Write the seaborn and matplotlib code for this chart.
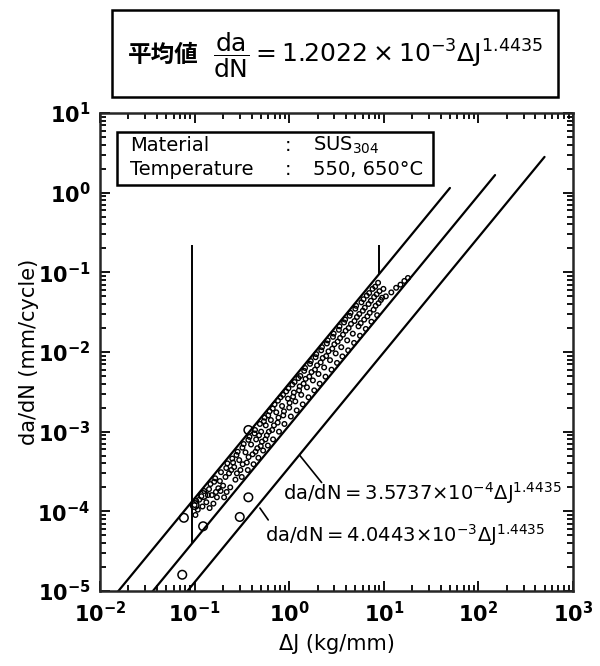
import numpy as np
import pandas as pd
import seaborn as sns
import matplotlib.pyplot as plt
from matplotlib.patches import Rectangle
from matplotlib.ticker import FuncFormatter

# fitted lines da/dN = C * dJ^m (lower, mean, upper)
line_names = ["lower", "mean", "upper"]
line_coef = [3.5737e-4, 1.2022e-3, 4.0443e-3]
line_exp = 1.4435
line_start = [0.01, 0.01, 0.01]
line_end = [500, 150, 50]

# axis decades
x_ticks = [1e-2, 1e-1, 1e0, 1e1, 1e2, 1e3]
y_ticks = [1e-5, 1e-4, 1e-3, 1e-2, 1e-1, 1e0, 1e1]

# crack growth data (dense band)
body_dj = [0.100, 0.104, 0.112, 0.108, 0.126, 0.133, 0.138, 0.147, 0.152, 0.158,
           0.165, 0.172, 0.178, 0.19, 0.2, 0.205, 0.212, 0.222, 0.231, 0.238,
           0.25, 0.262, 0.27, 0.285, 0.296, 0.305, 0.315, 0.33, 0.345, 0.356,
           0.365, 0.38, 0.395, 0.41, 0.42, 0.435, 0.447, 0.46, 0.472, 0.49,
           0.505, 0.515, 0.53, 0.55, 0.565, 0.58, 0.595, 0.62, 0.64, 0.66,
           0.675, 0.7, 0.73, 0.755, 0.78, 0.81, 0.84, 0.865, 0.89, 0.93,
           0.97, 1.0, 1.04, 1.08, 1.12, 1.16, 1.2, 1.25, 1.29, 1.34,
           1.39, 1.44, 1.49, 1.54, 1.6, 1.66, 1.72, 1.78, 1.84, 1.9,
           1.97, 2.04, 2.1, 2.18, 2.26, 2.34, 2.42, 2.5, 2.6, 2.7,
           2.8, 2.9, 3.0, 3.1, 3.2, 3.35, 3.45, 3.55, 3.65, 3.8,
           3.95, 4.1, 4.2, 4.35, 4.5, 4.7, 4.85, 5.0, 5.2, 5.4,
           5.6, 5.8, 6.0, 6.2, 6.45, 6.6, 6.9, 7.1, 7.4, 7.6,
           7.9, 8.2, 8.5, 8.7, 9.0, 9.3, 10.5, 12.0, 13.5, 15.0,
           16.5, 18.0]
body_dadn = [1.2e-4, 1.35e-4, 1.4e-4, 1.05e-4, 1.8e-4, 1.3e-4, 1.6e-4, 2.2e-4, 1.6e-4, 1.25e-4,
             2.6e-4, 1.5e-4, 1.95e-4, 3.1e-4, 2.1e-4, 1.5e-4, 2.7e-4, 4.0e-4, 3.0e-4, 2.0e-4,
             4.6e-4, 3.6e-4, 2.5e-4, 5.6e-4, 4.4e-4, 3.3e-4, 2.7e-4, 7.0e-4, 5.5e-4, 4.1e-4,
             3.3e-4, 8.6e-4, 6.9e-4, 5.2e-4, 3.9e-4, 1.05e-3, 8.0e-4, 6.2e-4, 4.7e-4, 1.25e-3,
             1.0e-3, 7.5e-4, 5.8e-4, 1.5e-3, 1.2e-3, 9.0e-4, 6.7e-4, 1.8e-3, 1.4e-3, 1.05e-3,
             8.0e-4, 2.2e-3, 1.75e-3, 1.3e-3, 1.0e-3, 2.7e-3, 2.1e-3, 1.6e-3, 1.25e-3, 3.2e-3,
             2.6e-3, 2.0e-3, 1.55e-3, 3.9e-3, 3.1e-3, 2.4e-3, 1.85e-3, 4.7e-3, 3.7e-3, 2.9e-3,
             2.2e-3, 5.8e-3, 4.6e-3, 3.6e-3, 2.7e-3, 7.1e-3, 5.6e-3, 4.4e-3, 3.3e-3, 8.6e-3,
             6.8e-3, 5.3e-3, 4.0e-3, 1.05e-2, 8.4e-3, 6.4e-3, 4.9e-3, 1.28e-2, 1.02e-2, 7.9e-3,
             6.0e-3, 1.55e-2, 1.25e-2, 9.6e-3, 7.3e-3, 1.9e-2, 1.5e-2, 1.15e-2, 8.8e-3, 2.35e-2,
             1.85e-2, 1.4e-2, 1.05e-2, 2.85e-2, 2.25e-2, 1.7e-2, 1.3e-2, 3.5e-2, 2.75e-2, 2.1e-2,
             1.6e-2, 4.2e-2, 3.3e-2, 2.55e-2, 1.95e-2, 5.1e-2, 4.0e-2, 3.1e-2, 2.4e-2, 6.2e-2,
             4.9e-2, 3.8e-2, 2.9e-2, 7.4e-2, 5.8e-2, 4.5e-2, 5.0e-2, 5.6e-2, 6.4e-2, 7.0e-2,
             7.8e-2, 8.5e-2]

# more points filling the same band
fill_dj = [0.102, 0.118, 0.121, 0.142, 0.144, 0.161, 0.168, 0.185, 0.188, 0.216,
           0.218, 0.244, 0.255, 0.277, 0.28, 0.32, 0.322, 0.37, 0.372, 0.43,
           0.44, 0.48, 0.5, 0.54, 0.56, 0.6, 0.61, 0.67, 0.69, 0.76,
           0.77, 0.86, 0.88, 0.98, 1.01, 1.1, 1.14, 1.27, 1.31, 1.42,
           1.47, 1.63, 1.69, 1.87, 1.93, 2.15, 2.22, 2.46, 2.55, 2.85,
           2.95, 3.25, 3.4, 3.7, 3.9, 4.25, 4.45, 4.9, 5.1, 5.5,
           5.7, 6.1, 6.3, 6.7, 7.0, 7.3, 7.8, 8.1, 8.4, 8.8,
           9.6, 9.9]
fill_dadn = [9.0e-5, 1.55e-4, 1.15e-4, 1.9e-4, 1.1e-4, 2.35e-4, 1.75e-4, 2.4e-4, 1.8e-4, 3.5e-4,
             1.75e-4, 3.3e-4, 4.1e-4, 5.1e-4, 3.0e-4, 6.3e-4, 3.9e-4, 7.9e-4, 4.8e-4, 9.5e-4,
             5.6e-4, 9.0e-4, 6.6e-4, 1.35e-3, 8.0e-4, 1.6e-3, 1.0e-3, 1.95e-3, 1.2e-3, 2.45e-3,
             1.5e-3, 2.9e-3, 1.8e-3, 3.5e-3, 2.3e-3, 2.75e-3, 4.2e-3, 3.3e-3, 5.0e-3, 4.0e-3,
             6.3e-3, 4.9e-3, 7.7e-3, 6.0e-3, 9.4e-3, 7.4e-3, 1.15e-2, 8.9e-3, 1.4e-2, 1.1e-2,
             1.7e-2, 1.35e-2, 2.1e-2, 1.65e-2, 2.55e-2, 2.0e-2, 3.1e-2, 2.45e-2, 3.8e-2, 3.0e-2,
             2.3e-2, 4.6e-2, 3.6e-2, 2.8e-2, 5.5e-2, 4.4e-2, 3.4e-2, 6.6e-2, 5.3e-2, 4.1e-2,
             4.8e-2, 6.2e-2]

# isolated open circles at the low end
iso_dj = [0.074, 0.077, 0.10, 0.123, 0.123, 0.37, 0.37, 0.30]
iso_dadn = [1.6e-5, 8.3e-5, 1.2e-4, 1.6e-4, 6.5e-5, 1.05e-3, 1.5e-4, 8.5e-5]

# vertical marker lines
vline_dj = [0.094, 8.9]
vline_bottom = [4.0e-5, 0.095]
vline_top = [0.22, 0.22]

sns.set_theme(style="ticks")
plt.rcParams['font.family'] = ['DejaVu Sans', 'Noto Sans CJK JP']
plt.rcParams['axes.linewidth'] = 1.8
plt.rcParams['text.color'] = 'black'
plt.rcParams['axes.labelcolor'] = 'black'

fig = plt.figure(figsize=(6, 6.66), dpi=100)
ax = fig.add_axes([0.1667, 0.1126, 0.7883, 0.7177])

for i, name in enumerate(line_names):
    xs = np.array([line_start[i], line_end[i]])
    ys = line_coef[i] * xs ** line_exp
    sns.lineplot(x=xs, y=ys, ax=ax, color="black", lw=1.6)

body = pd.DataFrame({"dJ": body_dj + fill_dj, "dadN": body_dadn + fill_dadn})
sns.scatterplot(data=body, x="dJ", y="dadN", ax=ax, marker="o", s=11,
                facecolor="none", edgecolor="black", linewidth=1.0)
iso = pd.DataFrame({"dJ": iso_dj, "dadN": iso_dadn})
sns.scatterplot(data=iso, x="dJ", y="dadN", ax=ax, marker="o", s=38,
                facecolor="none", edgecolor="black", linewidth=1.1)

ax.vlines(vline_dj, vline_bottom, vline_top, color="black", lw=1.4)

ax.set_xscale("log")
ax.set_yscale("log")
ax.set_xticks(x_ticks)
ax.set_yticks(y_ticks)
ax.set_xlim(1e-2, 1e3)
ax.set_ylim(1e-5, 1e1)
decade_fmt = FuncFormatter(lambda v, pos: r"$\mathbf{10^{%d}}$" % round(np.log10(v)))
ax.xaxis.set_major_formatter(decade_fmt)
ax.yaxis.set_major_formatter(decade_fmt)
ax.tick_params(which="both", direction="in", top=True, right=True, width=1.3,
               labelsize=15, colors="black")
ax.tick_params(which="major", length=7, pad=7)
ax.tick_params(which="minor", length=4)
ax.set_xlabel("ΔJ (kg/mm)", fontsize=15, labelpad=6)
ax.set_ylabel("da/dN (mm/cycle)", fontsize=15, labelpad=-1)

# leader lines for the equations
ax.plot([1.3, 2.2], [5.0e-4, 2.3e-4], color="black", lw=1.2)
ax.plot([0.49, 0.60], [1.1e-4, 7.8e-5], color="black", lw=1.2)
ax.text(0.86, 1.7e-4, r"da/dN$=$3.5737$\times$10$^{-4}\Delta$J$^{1.4435}$",
        fontsize=14, va="center", ha="left")
ax.text(0.555, 5.1e-5, r"da/dN$=$4.0443$\times$10$^{-3}\Delta$J$^{1.4435}$",
        fontsize=14, va="center", ha="left")

# material info box
ax.add_patch(Rectangle((0.036, 0.849), 0.668, 0.111, transform=ax.transAxes,
                       fill=False, lw=1.8, ec="black", zorder=5))
ax.text(0.063, 0.933, "Material", transform=ax.transAxes, fontsize=14, va="center")
ax.text(0.063, 0.881, "Temperature", transform=ax.transAxes, fontsize=14, va="center")
ax.text(0.39, 0.933, ":", transform=ax.transAxes, fontsize=14, va="center")
ax.text(0.39, 0.881, ":", transform=ax.transAxes, fontsize=14, va="center")
ax.text(0.45, 0.933, r"SUS$_{304}$", transform=ax.transAxes, fontsize=14, va="center")
ax.text(0.45, 0.881, "550, 650°C", transform=ax.transAxes, fontsize=14, va="center")

# mean equation box above the plot
fig.add_artist(Rectangle((0.187, 0.854), 0.743, 0.131, transform=fig.transFigure,
                         fill=False, lw=1.8, ec="black"))
fig.text(0.213, 0.917, "平均値", family=["Noto Sans CJK JP"], fontsize=17,
         va="center", fontweight="bold")
fig.text(0.355, 0.917,
         r"$\dfrac{\mathrm{da}}{\mathrm{dN}}=1.2022\times10^{-3}\Delta\mathrm{J}^{1.4435}$",
         fontsize=18, va="center")

fig.savefig("out.png", dpi=100)
